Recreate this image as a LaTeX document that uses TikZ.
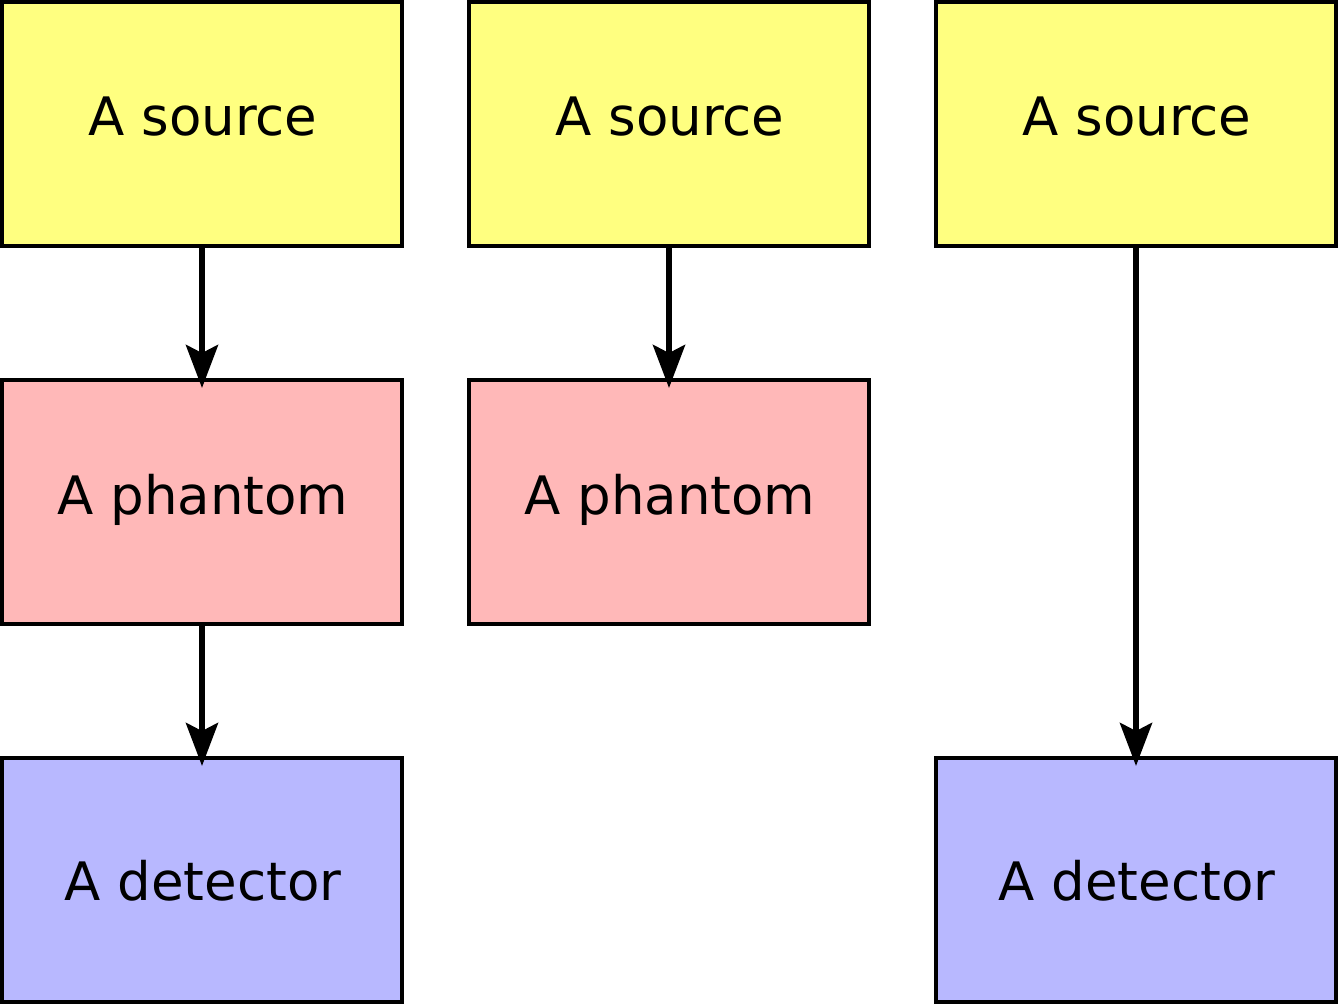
\documentclass[tikz,border=0pt]{standalone}
\usepackage{fontspec}
\setmainfont{DejaVu Sans}
\usetikzlibrary{arrows.meta}
\definecolor{srcfill}{HTML}{FFFF80}
\definecolor{phfill}{HTML}{FFB8B8}
\definecolor{detfill}{HTML}{B8B8FF}
\begin{document}
\begin{tikzpicture}[x=1pt,y=-1pt,
  box/.style={draw=black,line width=3.6pt,minimum width=400pt,minimum height=244pt,inner sep=0pt,outer sep=0pt},
  lbl/.style={anchor=base,font=\fontsize{53}{60}\selectfont,inner sep=0pt},
  arr/.style={line width=6pt,-{Stealth[length=43pt,width=32pt,inset=8pt]}}]
\useasboundingbox (0,0) rectangle (1338,1004);
% boxes
\node[box,fill=srcfill] (s1) at (202,124) {};
\node[box,fill=srcfill] (s2) at (669,124) {};
\node[box,fill=srcfill] (s3) at (1136,124) {};
\node[box,fill=phfill] (p1) at (202,502) {};
\node[box,fill=phfill] (p2) at (669,502) {};
\node[box,fill=detfill] (d1) at (202,880) {};
\node[box,fill=detfill] (d3) at (1136,880) {};
% labels
\node[lbl] (ts1) at (203,135) {A source};
\node[lbl] (ts2) at (670,135) {A source};
\node[lbl] (ts3) at (1137,135) {A source};
\node[lbl] (tp1) at (203,514) {A phantom};
\node[lbl] (tp2) at (670,514) {A phantom};
\node[lbl] (td1) at (203,900) {A detector};
\node[lbl] (td3) at (1137,900) {A detector};
% arrows
\draw[arr] (s1.south) -- ([yshift=-8pt]p1.north);
\draw[arr] (p1.south) -- ([yshift=-8pt]d1.north);
\draw[arr] (s2.south) -- ([yshift=-8pt]p2.north);
\draw[arr] (s3.south) -- ([yshift=-8pt]d3.north);
\end{tikzpicture}
\end{document}
